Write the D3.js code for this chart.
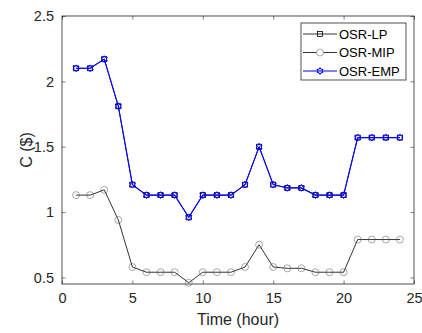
<!DOCTYPE html>
<html>
<head>
<meta charset="utf-8">
<script src="https://cdn.jsdelivr.net/npm/d3@7"></script>
<style>
  body { margin: 0; background: #fff; }
  svg { display: block; font-family: "Liberation Sans", Arial, sans-serif; }
  .axis text { fill: #262626; }
</style>
</head>
<body>
<div id="chart"></div>
<script>
const hours = [1, 2, 3, 4, 5, 6, 7, 8, 9, 10, 11, 12, 13, 14, 15, 16, 17, 18, 19, 20, 21, 22, 23, 24];
const lpCost = [2.10, 2.10, 2.17, 1.81, 1.21, 1.13, 1.13, 1.13, 0.96, 1.13, 1.13, 1.13,
  1.21, 1.50, 1.21, 1.185, 1.185, 1.13, 1.13, 1.13, 1.57, 1.57, 1.57, 1.57];
const mipCost = [1.13, 1.13, 1.17, 0.94, 0.58, 0.54, 0.54, 0.54, 0.46, 0.54, 0.54, 0.54,
  0.58, 0.75, 0.58, 0.57, 0.57, 0.54, 0.54, 0.54, 0.79, 0.79, 0.79, 0.79];
const empCost = [2.10, 2.10, 2.17, 1.81, 1.21, 1.13, 1.13, 1.13, 0.96, 1.13, 1.13, 1.13,
  1.21, 1.50, 1.21, 1.185, 1.185, 1.13, 1.13, 1.13, 1.57, 1.57, 1.57, 1.57];
const seriesNames = ['OSR-LP', 'OSR-MIP', 'OSR-EMP'];
const xTicks = [0, 5, 10, 15, 20, 25];
const yTicks = [0.5, 1, 1.5, 2, 2.5];

const width = 422, height = 333;
const margin = { top: 16, right: 8, bottom: 49, left: 62 };
const iw = width - margin.left - margin.right;
const ih = height - margin.top - margin.bottom;
const axisColor = '#262626';

const svg = d3.select('#chart').append('svg')
  .attr('width', width)
  .attr('height', height);

const x = d3.scaleLinear().domain([0, 25]).range([0, iw]);
const y = d3.scaleLinear().domain([0.45, 2.5]).range([ih, 0]);

const g = svg.append('g').attr('transform', `translate(${margin.left},${margin.top})`);

// axes with inward ticks (matlab style), box on
const fmt = d => d3.format('')(d);
g.append('g').attr('class', 'axis')
  .attr('transform', `translate(0,${ih})`)
  .call(d3.axisBottom(x).tickValues(xTicks).tickFormat(fmt).tickSizeInner(-3.5).tickSizeOuter(0).tickPadding(9))
  .call(a => a.selectAll('text').style('font-size', '14.5px'));
g.append('g').attr('class', 'axis')
  .call(d3.axisTop(x).tickValues(xTicks).tickFormat('').tickSizeInner(-3.5).tickSizeOuter(0));
g.append('g').attr('class', 'axis')
  .call(d3.axisLeft(y).tickValues(yTicks).tickFormat(fmt).tickSizeInner(-3.5).tickSizeOuter(0).tickPadding(8))
  .call(a => a.selectAll('text').style('font-size', '14.5px'));
g.append('g').attr('class', 'axis')
  .attr('transform', `translate(${iw},0)`)
  .call(d3.axisRight(y).tickValues(yTicks).tickFormat('').tickSizeInner(-3.5).tickSizeOuter(0));
g.selectAll('.axis path.domain').remove();
g.selectAll('.axis line').attr('stroke', axisColor).attr('stroke-width', 0.6);
g.append('rect')
  .attr('width', iw).attr('height', ih)
  .attr('fill', 'none').attr('stroke', axisColor).attr('stroke-width', 0.8);

svg.append('text')
  .attr('x', margin.left + iw / 2)
  .attr('y', 325)
  .attr('text-anchor', 'middle')
  .attr('fill', axisColor)
  .style('font-size', '16px')
  .text('Time (hour)');
svg.append('text')
  .attr('transform', `translate(32,${margin.top + ih / 2}) rotate(-90)`)
  .attr('text-anchor', 'middle')
  .attr('fill', axisColor)
  .style('font-size', '16px')
  .text('C ($)');

// markers
function hexagram(r) {
  const pts = [];
  for (let i = 0; i < 12; i++) {
    const a = -Math.PI / 2 + i * Math.PI / 6;
    const rr = i % 2 === 0 ? r : r * 0.577;
    pts.push([rr * Math.cos(a), rr * Math.sin(a)]);
  }
  return 'M' + pts.map(p => p.join(',')).join('L') + 'Z';
}
const markers = {
  square: sel => sel.append('rect').attr('x', -2.5).attr('y', -2.5).attr('width', 5).attr('height', 5),
  circle: sel => sel.append('circle').attr('r', 3.5),
  hexagram: sel => sel.append('path').attr('d', hexagram(3.4))
};

const series = [
  { name: seriesNames[0], values: lpCost, color: '#000', width: 0.8, marker: 'square', mw: 0.8 },
  { name: seriesNames[1], values: mipCost, color: '#000', width: 0.8, marker: 'circle', mw: 0.5 },
  { name: seriesNames[2], values: empCost, color: '#0000ff', width: 1.1, marker: 'hexagram', mw: 1 }
];

const line = d3.line().x((d, i) => x(hours[i])).y(d => y(d));

series.forEach(s => {
  g.append('path')
    .datum(s.values)
    .attr('fill', 'none')
    .attr('stroke', s.color)
    .attr('stroke-width', s.width)
    .attr('d', line);
  const pts = g.append('g').selectAll('g')
    .data(s.values)
    .join('g')
    .attr('transform', (d, i) => `translate(${x(hours[i])},${y(d)})`);
  markers[s.marker](pts);
  pts.selectAll('*')
    .attr('fill', 'none')
    .attr('stroke', s.marker === 'circle' ? '#555' : s.color)
    .attr('stroke-width', s.mw);
});

// legend
const lg = svg.append('g').attr('transform', 'translate(301,23)');
lg.append('rect')
  .attr('width', 105).attr('height', 57)
  .attr('fill', '#fff').attr('stroke', axisColor).attr('stroke-width', 0.8);
series.forEach((s, i) => {
  const row = lg.append('g').attr('transform', `translate(0,${11 + i * 18.5})`);
  row.append('line')
    .attr('x1', 2).attr('x2', 36)
    .attr('stroke', s.color).attr('stroke-width', s.width);
  const m = row.append('g').attr('transform', 'translate(19,0)');
  markers[s.marker](m);
  m.selectAll('*')
    .attr('fill', s.marker === 'circle' ? '#fff' : 'none')
    .attr('stroke', s.marker === 'circle' ? '#555' : s.color)
    .attr('stroke-width', s.mw);
  row.append('text')
    .attr('x', 38).attr('y', 4.7)
    .attr('fill', '#000')
    .style('font-size', '13px')
    .text(s.name);
});
</script>
</body>
</html>
